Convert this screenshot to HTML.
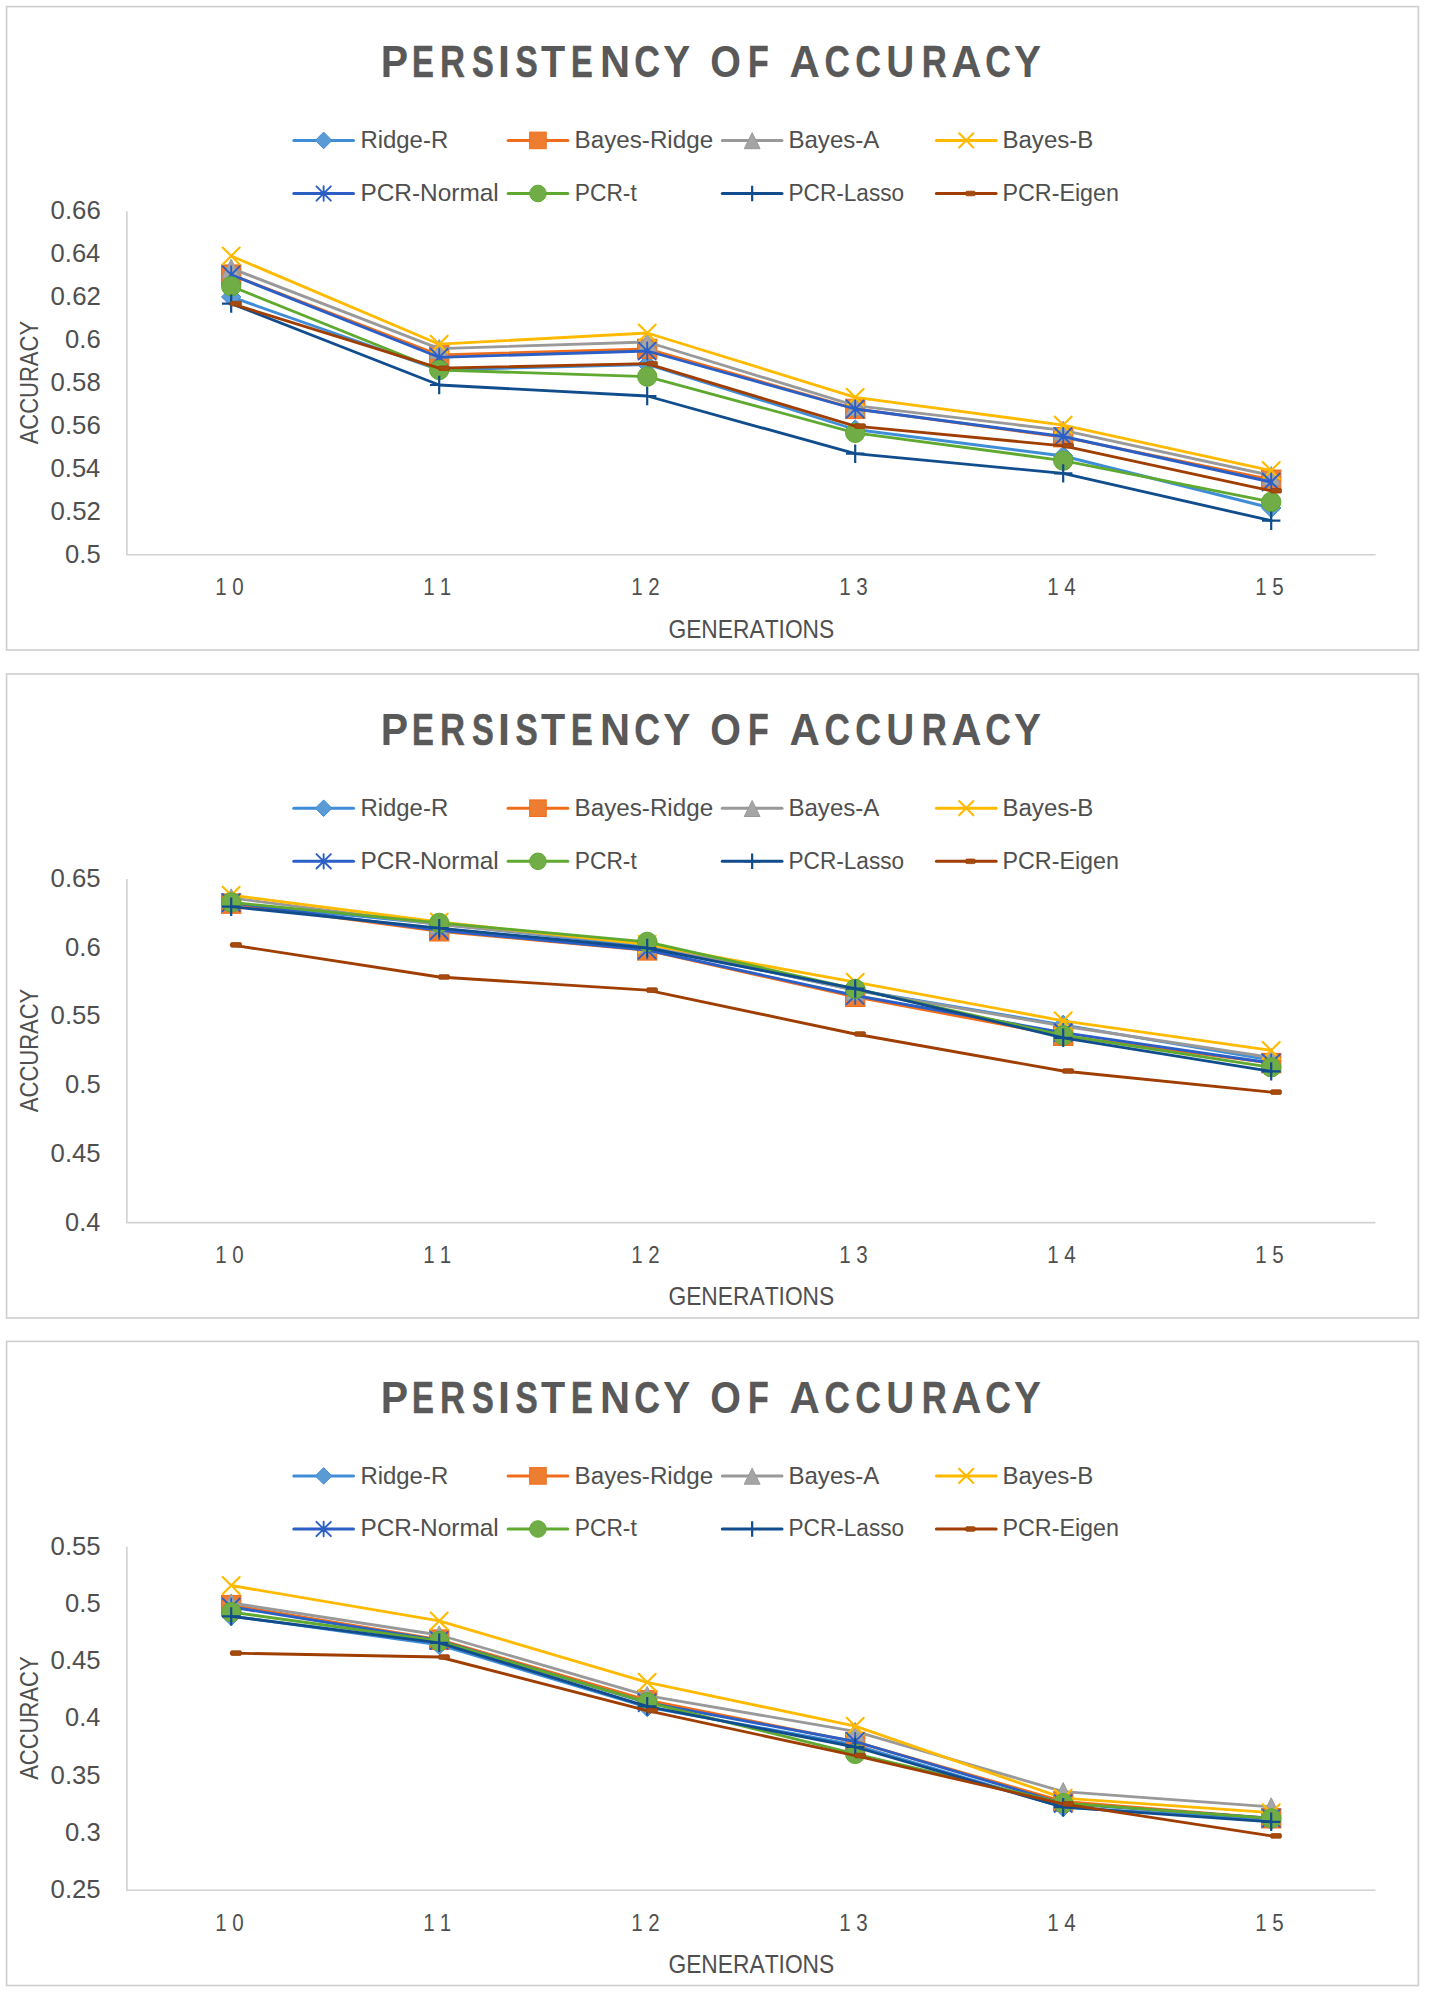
<!DOCTYPE html>
<html><head><meta charset="utf-8"><title>Persistency of accuracy</title>
<style>
html,body{margin:0;padding:0;background:#fff;}
body{width:1429px;height:2000px;overflow:hidden;}
svg{display:block;font-family:'Liberation Sans', sans-serif;font-kerning:none;}
</style></head><body>
<svg width="1429" height="2000" viewBox="0 0 1429 2000">
<rect width="1429" height="2000" fill="#fff"/>
<rect x="6.6" y="6.6" width="1411.8" height="643.4" fill="#fff" stroke="#d0d0d0" stroke-width="1.7"/>
<text transform="translate(380.76 77.00) scale(0.9070 1)" font-size="45.2" font-weight="bold" fill="#595959">P</text>
<text transform="translate(411.91 77.00) scale(0.7256 1)" font-size="45.2" font-weight="bold" fill="#595959" stroke="#595959" stroke-width="0.60">E</text>
<text transform="translate(439.98 77.00) scale(0.7668 1)" font-size="45.2" font-weight="bold" fill="#595959" stroke="#595959" stroke-width="0.42">R</text>
<text transform="translate(471.96 77.00) scale(0.7238 1)" font-size="45.2" font-weight="bold" fill="#595959" stroke="#595959" stroke-width="0.61">S</text>
<text transform="translate(498.12 77.00) scale(0.9523 1)" font-size="45.2" font-weight="bold" fill="#595959">I</text>
<text transform="translate(515.54 77.00) scale(0.7385 1)" font-size="45.2" font-weight="bold" fill="#595959" stroke="#595959" stroke-width="0.55">S</text>
<text transform="translate(540.96 77.00) scale(0.8754 1)" font-size="45.2" font-weight="bold" fill="#595959">T</text>
<text transform="translate(571.12 77.00) scale(0.7216 1)" font-size="45.2" font-weight="bold" fill="#595959" stroke="#595959" stroke-width="0.62">E</text>
<text transform="translate(599.91 77.00) scale(0.9220 1)" font-size="45.2" font-weight="bold" fill="#595959">N</text>
<text transform="translate(634.24 77.00) scale(0.7884 1)" font-size="45.2" font-weight="bold" fill="#595959" stroke="#595959" stroke-width="0.32">C</text>
<text transform="translate(663.21 77.00) scale(0.8971 1)" font-size="45.2" font-weight="bold" fill="#595959">Y</text>
<text transform="translate(710.18 77.00) scale(0.8724 1)" font-size="45.2" font-weight="bold" fill="#595959">O</text>
<text transform="translate(747.93 77.00) scale(0.7501 1)" font-size="45.2" font-weight="bold" fill="#595959" stroke="#595959" stroke-width="0.49">F</text>
<text transform="translate(789.55 77.00) scale(0.9299 1)" font-size="45.2" font-weight="bold" fill="#595959">A</text>
<text transform="translate(824.56 77.00) scale(0.7783 1)" font-size="45.2" font-weight="bold" fill="#595959" stroke="#595959" stroke-width="0.37">C</text>
<text transform="translate(855.24 77.00) scale(0.7884 1)" font-size="45.2" font-weight="bold" fill="#595959" stroke="#595959" stroke-width="0.32">C</text>
<text transform="translate(886.27 77.00) scale(0.8576 1)" font-size="45.2" font-weight="bold" fill="#595959" stroke="#595959" stroke-width="0.01">U</text>
<text transform="translate(921.68 77.00) scale(0.7668 1)" font-size="45.2" font-weight="bold" fill="#595959" stroke="#595959" stroke-width="0.42">R</text>
<text transform="translate(951.26 77.00) scale(0.9266 1)" font-size="45.2" font-weight="bold" fill="#595959">A</text>
<text transform="translate(985.14 77.00) scale(0.7851 1)" font-size="45.2" font-weight="bold" fill="#595959" stroke="#595959" stroke-width="0.34">C</text>
<text transform="translate(1014.01 77.00) scale(0.8971 1)" font-size="45.2" font-weight="bold" fill="#595959">Y</text>
<path d="M293.8 140.4L353.5 140.4" stroke="#408dd7" stroke-width="3" stroke-linecap="round" fill="none"/>
<path d="M323.65 132.1L331.95 140.4L323.65 148.7L315.35 140.4Z" fill="#5b9bd5" stroke="#408dd7" stroke-width="1" stroke-linejoin="miter"/>
<text transform="translate(360.44 148.10) scale(0.9727 1)" font-size="24.6" font-weight="normal" fill="#4f4f4f">Ridge-R</text>
<path d="M508.1 140.4L567.8 140.4" stroke="#f06e1b" stroke-width="3" stroke-linecap="round" fill="none"/>
<rect x="529.65" y="132.1" width="16.6" height="16.6" fill="#ed7d31" stroke="#f06e1b" stroke-width="1" stroke-linejoin="miter"/>
<text transform="translate(574.61 148.10) scale(0.9838 1)" font-size="24.6" font-weight="normal" fill="#4f4f4f">Bayes-Ridge</text>
<path d="M722.3 140.4L782 140.4" stroke="#999999" stroke-width="3" stroke-linecap="round" fill="none"/>
<path d="M752.15 132.7L760.05 148.7L744.25 148.7Z" fill="#a5a5a5" stroke="#999999" stroke-width="1" stroke-linejoin="miter"/>
<text transform="translate(788.42 148.10) scale(0.9790 1)" font-size="24.6" font-weight="normal" fill="#4f4f4f">Bayes-A</text>
<path d="M936.4 140.4L996.1 140.4" stroke="#ffba00" stroke-width="3" stroke-linecap="round" fill="none"/>
<path d="M959.15 133.3L973.35 147.5M959.15 147.5L973.35 133.3" stroke="#ffba00" stroke-width="2.1" stroke-linecap="round" fill="none"/>
<text transform="translate(1002.43 148.10) scale(0.9782 1)" font-size="24.6" font-weight="normal" fill="#4f4f4f">Bayes-B</text>
<path d="M293.8 193.5L353.5 193.5" stroke="#2b5fc6" stroke-width="3" stroke-linecap="round" fill="none"/>
<path d="M316.45 186.3L330.85 200.7M316.45 200.7L330.85 186.3M323.65 186.3L323.65 200.7" stroke="#2b5fc6" stroke-width="1.9" stroke-linecap="round" fill="none"/>
<text transform="translate(360.40 200.90) scale(0.9923 1)" font-size="24.6" font-weight="normal" fill="#4f4f4f">PCR-Normal</text>
<path d="M508.1 193.5L567.8 193.5" stroke="#60a930" stroke-width="3" stroke-linecap="round" fill="none"/>
<circle cx="537.95" cy="193.5" r="8.3" fill="#70ad47" stroke="#60a930" stroke-width="1" stroke-linejoin="miter"/>
<text transform="translate(574.73 200.90) scale(0.9264 1)" font-size="24.6" font-weight="normal" fill="#4f4f4f">PCR-t</text>
<path d="M722.3 193.5L782 193.5" stroke="#114d8d" stroke-width="3" stroke-linecap="round" fill="none"/>
<path d="M744.35 193.5L759.95 193.5M752.15 185.7L752.15 201.3" stroke="#114d8d" stroke-width="2.2" stroke-linecap="butt" fill="none"/>
<text transform="translate(788.55 200.90) scale(0.9191 1)" font-size="24.6" font-weight="normal" fill="#4f4f4f">PCR-Lasso</text>
<path d="M936.4 193.5L996.1 193.5" stroke="#a03e02" stroke-width="3" stroke-linecap="round" fill="none"/>
<rect x="965.75" y="191.2" width="9.3" height="4.6" rx="1.2" fill="#a54b10" stroke="#a03e02" stroke-width="0.8"/>
<text transform="translate(1002.49 200.90) scale(0.9470 1)" font-size="24.6" font-weight="normal" fill="#4f4f4f">PCR-Eigen</text>
<path d="M126.9 211.3L126.9 554.8L1375.5 554.8" stroke="#d2d2d2" stroke-width="1.6" fill="none"/>
<text transform="translate(50.59 219.20) scale(1.0304 1)" font-size="25" font-weight="normal" fill="#4f4f4f">0.66</text>
<text transform="translate(50.60 262.14) scale(1.0224 1)" font-size="25" font-weight="normal" fill="#4f4f4f">0.64</text>
<text transform="translate(50.59 305.07) scale(1.0340 1)" font-size="25" font-weight="normal" fill="#4f4f4f">0.62</text>
<text transform="translate(65.10 348.01) scale(1.0251 1)" font-size="25" font-weight="normal" fill="#4f4f4f">0.6</text>
<text transform="translate(50.59 390.95) scale(1.0302 1)" font-size="25" font-weight="normal" fill="#4f4f4f">0.58</text>
<text transform="translate(50.59 433.89) scale(1.0304 1)" font-size="25" font-weight="normal" fill="#4f4f4f">0.56</text>
<text transform="translate(50.60 476.82) scale(1.0224 1)" font-size="25" font-weight="normal" fill="#4f4f4f">0.54</text>
<text transform="translate(50.59 519.76) scale(1.0340 1)" font-size="25" font-weight="normal" fill="#4f4f4f">0.52</text>
<text transform="translate(65.10 562.70) scale(1.0236 1)" font-size="25" font-weight="normal" fill="#4f4f4f">0.5</text>
<text transform="translate(37.80 444.34) rotate(-90) scale(0.8735 1)" font-size="25.2" font-weight="normal" fill="#4f4f4f">ACCURACY</text>
<text transform="translate(215.32 595.00) scale(0.8800 1)" font-size="23.3" font-weight="normal" fill="#4f4f4f">1</text>
<text transform="translate(232.15 595.00) scale(0.8800 1)" font-size="23.3" font-weight="normal" fill="#4f4f4f">0</text>
<text transform="translate(423.32 595.00) scale(0.8800 1)" font-size="23.3" font-weight="normal" fill="#4f4f4f">1</text>
<text transform="translate(439.87 595.00) scale(0.8800 1)" font-size="23.3" font-weight="normal" fill="#4f4f4f">1</text>
<text transform="translate(631.32 595.00) scale(0.8800 1)" font-size="23.3" font-weight="normal" fill="#4f4f4f">1</text>
<text transform="translate(648.15 595.00) scale(0.8800 1)" font-size="23.3" font-weight="normal" fill="#4f4f4f">2</text>
<text transform="translate(839.32 595.00) scale(0.8800 1)" font-size="23.3" font-weight="normal" fill="#4f4f4f">1</text>
<text transform="translate(856.21 595.00) scale(0.8800 1)" font-size="23.3" font-weight="normal" fill="#4f4f4f">3</text>
<text transform="translate(1047.32 595.00) scale(0.8800 1)" font-size="23.3" font-weight="normal" fill="#4f4f4f">1</text>
<text transform="translate(1064.21 595.00) scale(0.8800 1)" font-size="23.3" font-weight="normal" fill="#4f4f4f">4</text>
<text transform="translate(1255.32 595.00) scale(0.8800 1)" font-size="23.3" font-weight="normal" fill="#4f4f4f">1</text>
<text transform="translate(1272.17 595.00) scale(0.8800 1)" font-size="23.3" font-weight="normal" fill="#4f4f4f">5</text>
<text transform="translate(668.45 637.50) scale(0.9044 1)" font-size="25.2" font-weight="normal" fill="#4f4f4f">GENERATIONS</text>
<polyline points="231.2,296.9 439.2,370 647.2,364.5 855.2,429.5 1063.2,456 1271.2,508" stroke="#408dd7" stroke-width="2.85" stroke-linejoin="round" stroke-linecap="round" fill="none"/>
<path d="M231.2 287.2L240.9 296.9L231.2 306.6L221.5 296.9Z" fill="#5b9bd5" stroke="#408dd7" stroke-width="1" stroke-linejoin="miter"/>
<path d="M439.2 360.3L448.9 370L439.2 379.7L429.5 370Z" fill="#5b9bd5" stroke="#408dd7" stroke-width="1" stroke-linejoin="miter"/>
<path d="M647.2 354.8L656.9 364.5L647.2 374.2L637.5 364.5Z" fill="#5b9bd5" stroke="#408dd7" stroke-width="1" stroke-linejoin="miter"/>
<path d="M855.2 419.8L864.9 429.5L855.2 439.2L845.5 429.5Z" fill="#5b9bd5" stroke="#408dd7" stroke-width="1" stroke-linejoin="miter"/>
<path d="M1063.2 446.3L1072.9 456L1063.2 465.7L1053.5 456Z" fill="#5b9bd5" stroke="#408dd7" stroke-width="1" stroke-linejoin="miter"/>
<path d="M1271.2 498.3L1280.9 508L1271.2 517.7L1261.5 508Z" fill="#5b9bd5" stroke="#408dd7" stroke-width="1" stroke-linejoin="miter"/>
<polyline points="231.2,274.6 439.2,355 647.2,348.9 855.2,408.9 1063.2,437.2 1271.2,479.7" stroke="#f06e1b" stroke-width="2.85" stroke-linejoin="round" stroke-linecap="round" fill="none"/>
<rect x="221.5" y="264.9" width="19.4" height="19.4" fill="#ed7d31" stroke="#f06e1b" stroke-width="1" stroke-linejoin="miter"/>
<rect x="429.5" y="345.3" width="19.4" height="19.4" fill="#ed7d31" stroke="#f06e1b" stroke-width="1" stroke-linejoin="miter"/>
<rect x="637.5" y="339.2" width="19.4" height="19.4" fill="#ed7d31" stroke="#f06e1b" stroke-width="1" stroke-linejoin="miter"/>
<rect x="845.5" y="399.2" width="19.4" height="19.4" fill="#ed7d31" stroke="#f06e1b" stroke-width="1" stroke-linejoin="miter"/>
<rect x="1053.5" y="427.5" width="19.4" height="19.4" fill="#ed7d31" stroke="#f06e1b" stroke-width="1" stroke-linejoin="miter"/>
<rect x="1261.5" y="470" width="19.4" height="19.4" fill="#ed7d31" stroke="#f06e1b" stroke-width="1" stroke-linejoin="miter"/>
<polyline points="231.2,268.3 439.2,348.6 647.2,342 855.2,405.6 1063.2,430.3 1271.2,475.5" stroke="#999999" stroke-width="2.85" stroke-linejoin="round" stroke-linecap="round" fill="none"/>
<path d="M231.2 259.2L240.5 278L221.9 278Z" fill="#a5a5a5" stroke="#999999" stroke-width="1" stroke-linejoin="miter"/>
<path d="M439.2 339.5L448.5 358.3L429.9 358.3Z" fill="#a5a5a5" stroke="#999999" stroke-width="1" stroke-linejoin="miter"/>
<path d="M647.2 332.9L656.5 351.7L637.9 351.7Z" fill="#a5a5a5" stroke="#999999" stroke-width="1" stroke-linejoin="miter"/>
<path d="M855.2 396.5L864.5 415.3L845.9 415.3Z" fill="#a5a5a5" stroke="#999999" stroke-width="1" stroke-linejoin="miter"/>
<path d="M1063.2 421.2L1072.5 440L1053.9 440Z" fill="#a5a5a5" stroke="#999999" stroke-width="1" stroke-linejoin="miter"/>
<path d="M1271.2 466.4L1280.5 485.2L1261.9 485.2Z" fill="#a5a5a5" stroke="#999999" stroke-width="1" stroke-linejoin="miter"/>
<polyline points="231.2,256 439.2,344.2 647.2,333 855.2,397.3 1063.2,425.1 1271.2,470.6" stroke="#ffba00" stroke-width="2.85" stroke-linejoin="round" stroke-linecap="round" fill="none"/>
<path d="M222.7 247.5L239.7 264.5M222.7 264.5L239.7 247.5" stroke="#ffba00" stroke-width="2.1" stroke-linecap="round" fill="none"/>
<path d="M430.7 335.7L447.7 352.7M430.7 352.7L447.7 335.7" stroke="#ffba00" stroke-width="2.1" stroke-linecap="round" fill="none"/>
<path d="M638.7 324.5L655.7 341.5M638.7 341.5L655.7 324.5" stroke="#ffba00" stroke-width="2.1" stroke-linecap="round" fill="none"/>
<path d="M846.7 388.8L863.7 405.8M846.7 405.8L863.7 388.8" stroke="#ffba00" stroke-width="2.1" stroke-linecap="round" fill="none"/>
<path d="M1054.7 416.6L1071.7 433.6M1054.7 433.6L1071.7 416.6" stroke="#ffba00" stroke-width="2.1" stroke-linecap="round" fill="none"/>
<path d="M1262.7 462.1L1279.7 479.1M1262.7 479.1L1279.7 462.1" stroke="#ffba00" stroke-width="2.1" stroke-linecap="round" fill="none"/>
<polyline points="231.2,274.8 439.2,357.3 647.2,351 855.2,409 1063.2,436.5 1271.2,482" stroke="#2b5fc6" stroke-width="2.85" stroke-linejoin="round" stroke-linecap="round" fill="none"/>
<path d="M222.6 266.2L239.8 283.4M222.6 283.4L239.8 266.2M231.2 266.2L231.2 283.4" stroke="#2b5fc6" stroke-width="1.9" stroke-linecap="round" fill="none"/>
<path d="M430.6 348.7L447.8 365.9M430.6 365.9L447.8 348.7M439.2 348.7L439.2 365.9" stroke="#2b5fc6" stroke-width="1.9" stroke-linecap="round" fill="none"/>
<path d="M638.6 342.4L655.8 359.6M638.6 359.6L655.8 342.4M647.2 342.4L647.2 359.6" stroke="#2b5fc6" stroke-width="1.9" stroke-linecap="round" fill="none"/>
<path d="M846.6 400.4L863.8 417.6M846.6 417.6L863.8 400.4M855.2 400.4L855.2 417.6" stroke="#2b5fc6" stroke-width="1.9" stroke-linecap="round" fill="none"/>
<path d="M1054.6 427.9L1071.8 445.1M1054.6 445.1L1071.8 427.9M1063.2 427.9L1063.2 445.1" stroke="#2b5fc6" stroke-width="1.9" stroke-linecap="round" fill="none"/>
<path d="M1262.6 473.4L1279.8 490.6M1262.6 490.6L1279.8 473.4M1271.2 473.4L1271.2 490.6" stroke="#2b5fc6" stroke-width="1.9" stroke-linecap="round" fill="none"/>
<polyline points="231.2,286.3 439.2,370 647.2,376.6 855.2,432.8 1063.2,460.6 1271.2,501.9" stroke="#60a930" stroke-width="2.85" stroke-linejoin="round" stroke-linecap="round" fill="none"/>
<circle cx="231.2" cy="286.3" r="9.7" fill="#70ad47" stroke="#60a930" stroke-width="1" stroke-linejoin="miter"/>
<circle cx="439.2" cy="370" r="9.7" fill="#70ad47" stroke="#60a930" stroke-width="1" stroke-linejoin="miter"/>
<circle cx="647.2" cy="376.6" r="9.7" fill="#70ad47" stroke="#60a930" stroke-width="1" stroke-linejoin="miter"/>
<circle cx="855.2" cy="432.8" r="9.7" fill="#70ad47" stroke="#60a930" stroke-width="1" stroke-linejoin="miter"/>
<circle cx="1063.2" cy="460.6" r="9.7" fill="#70ad47" stroke="#60a930" stroke-width="1" stroke-linejoin="miter"/>
<circle cx="1271.2" cy="501.9" r="9.7" fill="#70ad47" stroke="#60a930" stroke-width="1" stroke-linejoin="miter"/>
<polyline points="231.2,303.6 439.2,385 647.2,396 855.2,453.7 1063.2,473.4 1271.2,520.7" stroke="#114d8d" stroke-width="2.85" stroke-linejoin="round" stroke-linecap="round" fill="none"/>
<path d="M222 303.6L240.4 303.6M231.2 294.4L231.2 312.8" stroke="#114d8d" stroke-width="2.2" stroke-linecap="butt" fill="none"/>
<path d="M430 385L448.4 385M439.2 375.8L439.2 394.2" stroke="#114d8d" stroke-width="2.2" stroke-linecap="butt" fill="none"/>
<path d="M638 396L656.4 396M647.2 386.8L647.2 405.2" stroke="#114d8d" stroke-width="2.2" stroke-linecap="butt" fill="none"/>
<path d="M846 453.7L864.4 453.7M855.2 444.5L855.2 462.9" stroke="#114d8d" stroke-width="2.2" stroke-linecap="butt" fill="none"/>
<path d="M1054 473.4L1072.4 473.4M1063.2 464.2L1063.2 482.6" stroke="#114d8d" stroke-width="2.2" stroke-linecap="butt" fill="none"/>
<path d="M1262 520.7L1280.4 520.7M1271.2 511.5L1271.2 529.9" stroke="#114d8d" stroke-width="2.2" stroke-linecap="butt" fill="none"/>
<polyline points="231.2,303.6 439.2,368.2 647.2,363.7 855.2,426.1 1063.2,445.8 1271.2,490.8" stroke="#a03e02" stroke-width="2.85" stroke-linejoin="round" stroke-linecap="round" fill="none"/>
<rect x="230.7" y="301.3" width="10.7" height="4.6" rx="1.2" fill="#a54b10" stroke="#a03e02" stroke-width="0.8"/>
<rect x="438.7" y="365.9" width="10.7" height="4.6" rx="1.2" fill="#a54b10" stroke="#a03e02" stroke-width="0.8"/>
<rect x="646.7" y="361.4" width="10.7" height="4.6" rx="1.2" fill="#a54b10" stroke="#a03e02" stroke-width="0.8"/>
<rect x="854.7" y="423.8" width="10.7" height="4.6" rx="1.2" fill="#a54b10" stroke="#a03e02" stroke-width="0.8"/>
<rect x="1062.7" y="443.5" width="10.7" height="4.6" rx="1.2" fill="#a54b10" stroke="#a03e02" stroke-width="0.8"/>
<rect x="1270.7" y="488.5" width="10.7" height="4.6" rx="1.2" fill="#a54b10" stroke="#a03e02" stroke-width="0.8"/>
<rect x="6.6" y="674" width="1411.8" height="644" fill="#fff" stroke="#d0d0d0" stroke-width="1.7"/>
<text transform="translate(380.76 744.80) scale(0.9070 1)" font-size="45.2" font-weight="bold" fill="#595959">P</text>
<text transform="translate(411.91 744.80) scale(0.7256 1)" font-size="45.2" font-weight="bold" fill="#595959" stroke="#595959" stroke-width="0.60">E</text>
<text transform="translate(439.98 744.80) scale(0.7668 1)" font-size="45.2" font-weight="bold" fill="#595959" stroke="#595959" stroke-width="0.42">R</text>
<text transform="translate(471.96 744.80) scale(0.7238 1)" font-size="45.2" font-weight="bold" fill="#595959" stroke="#595959" stroke-width="0.61">S</text>
<text transform="translate(498.12 744.80) scale(0.9523 1)" font-size="45.2" font-weight="bold" fill="#595959">I</text>
<text transform="translate(515.54 744.80) scale(0.7385 1)" font-size="45.2" font-weight="bold" fill="#595959" stroke="#595959" stroke-width="0.55">S</text>
<text transform="translate(540.96 744.80) scale(0.8754 1)" font-size="45.2" font-weight="bold" fill="#595959">T</text>
<text transform="translate(571.12 744.80) scale(0.7216 1)" font-size="45.2" font-weight="bold" fill="#595959" stroke="#595959" stroke-width="0.62">E</text>
<text transform="translate(599.91 744.80) scale(0.9220 1)" font-size="45.2" font-weight="bold" fill="#595959">N</text>
<text transform="translate(634.24 744.80) scale(0.7884 1)" font-size="45.2" font-weight="bold" fill="#595959" stroke="#595959" stroke-width="0.32">C</text>
<text transform="translate(663.21 744.80) scale(0.8971 1)" font-size="45.2" font-weight="bold" fill="#595959">Y</text>
<text transform="translate(710.18 744.80) scale(0.8724 1)" font-size="45.2" font-weight="bold" fill="#595959">O</text>
<text transform="translate(747.93 744.80) scale(0.7501 1)" font-size="45.2" font-weight="bold" fill="#595959" stroke="#595959" stroke-width="0.49">F</text>
<text transform="translate(789.55 744.80) scale(0.9299 1)" font-size="45.2" font-weight="bold" fill="#595959">A</text>
<text transform="translate(824.56 744.80) scale(0.7783 1)" font-size="45.2" font-weight="bold" fill="#595959" stroke="#595959" stroke-width="0.37">C</text>
<text transform="translate(855.24 744.80) scale(0.7884 1)" font-size="45.2" font-weight="bold" fill="#595959" stroke="#595959" stroke-width="0.32">C</text>
<text transform="translate(886.27 744.80) scale(0.8576 1)" font-size="45.2" font-weight="bold" fill="#595959" stroke="#595959" stroke-width="0.01">U</text>
<text transform="translate(921.68 744.80) scale(0.7668 1)" font-size="45.2" font-weight="bold" fill="#595959" stroke="#595959" stroke-width="0.42">R</text>
<text transform="translate(951.26 744.80) scale(0.9266 1)" font-size="45.2" font-weight="bold" fill="#595959">A</text>
<text transform="translate(985.14 744.80) scale(0.7851 1)" font-size="45.2" font-weight="bold" fill="#595959" stroke="#595959" stroke-width="0.34">C</text>
<text transform="translate(1014.01 744.80) scale(0.8971 1)" font-size="45.2" font-weight="bold" fill="#595959">Y</text>
<path d="M293.8 808.2L353.5 808.2" stroke="#408dd7" stroke-width="3" stroke-linecap="round" fill="none"/>
<path d="M323.65 799.9L331.95 808.2L323.65 816.5L315.35 808.2Z" fill="#5b9bd5" stroke="#408dd7" stroke-width="1" stroke-linejoin="miter"/>
<text transform="translate(360.44 815.90) scale(0.9727 1)" font-size="24.6" font-weight="normal" fill="#4f4f4f">Ridge-R</text>
<path d="M508.1 808.2L567.8 808.2" stroke="#f06e1b" stroke-width="3" stroke-linecap="round" fill="none"/>
<rect x="529.65" y="799.9" width="16.6" height="16.6" fill="#ed7d31" stroke="#f06e1b" stroke-width="1" stroke-linejoin="miter"/>
<text transform="translate(574.61 815.90) scale(0.9838 1)" font-size="24.6" font-weight="normal" fill="#4f4f4f">Bayes-Ridge</text>
<path d="M722.3 808.2L782 808.2" stroke="#999999" stroke-width="3" stroke-linecap="round" fill="none"/>
<path d="M752.15 800.5L760.05 816.5L744.25 816.5Z" fill="#a5a5a5" stroke="#999999" stroke-width="1" stroke-linejoin="miter"/>
<text transform="translate(788.42 815.90) scale(0.9790 1)" font-size="24.6" font-weight="normal" fill="#4f4f4f">Bayes-A</text>
<path d="M936.4 808.2L996.1 808.2" stroke="#ffba00" stroke-width="3" stroke-linecap="round" fill="none"/>
<path d="M959.15 801.1L973.35 815.3M959.15 815.3L973.35 801.1" stroke="#ffba00" stroke-width="2.1" stroke-linecap="round" fill="none"/>
<text transform="translate(1002.43 815.90) scale(0.9782 1)" font-size="24.6" font-weight="normal" fill="#4f4f4f">Bayes-B</text>
<path d="M293.8 861.3L353.5 861.3" stroke="#2b5fc6" stroke-width="3" stroke-linecap="round" fill="none"/>
<path d="M316.45 854.1L330.85 868.5M316.45 868.5L330.85 854.1M323.65 854.1L323.65 868.5" stroke="#2b5fc6" stroke-width="1.9" stroke-linecap="round" fill="none"/>
<text transform="translate(360.40 868.70) scale(0.9923 1)" font-size="24.6" font-weight="normal" fill="#4f4f4f">PCR-Normal</text>
<path d="M508.1 861.3L567.8 861.3" stroke="#60a930" stroke-width="3" stroke-linecap="round" fill="none"/>
<circle cx="537.95" cy="861.3" r="8.3" fill="#70ad47" stroke="#60a930" stroke-width="1" stroke-linejoin="miter"/>
<text transform="translate(574.73 868.70) scale(0.9264 1)" font-size="24.6" font-weight="normal" fill="#4f4f4f">PCR-t</text>
<path d="M722.3 861.3L782 861.3" stroke="#114d8d" stroke-width="3" stroke-linecap="round" fill="none"/>
<path d="M744.35 861.3L759.95 861.3M752.15 853.5L752.15 869.1" stroke="#114d8d" stroke-width="2.2" stroke-linecap="butt" fill="none"/>
<text transform="translate(788.55 868.70) scale(0.9191 1)" font-size="24.6" font-weight="normal" fill="#4f4f4f">PCR-Lasso</text>
<path d="M936.4 861.3L996.1 861.3" stroke="#a03e02" stroke-width="3" stroke-linecap="round" fill="none"/>
<rect x="965.75" y="859" width="9.3" height="4.6" rx="1.2" fill="#a54b10" stroke="#a03e02" stroke-width="0.8"/>
<text transform="translate(1002.49 868.70) scale(0.9470 1)" font-size="24.6" font-weight="normal" fill="#4f4f4f">PCR-Eigen</text>
<path d="M126.9 879.1L126.9 1222.6L1375.5 1222.6" stroke="#d2d2d2" stroke-width="1.6" fill="none"/>
<text transform="translate(50.59 887.00) scale(1.0294 1)" font-size="25" font-weight="normal" fill="#4f4f4f">0.65</text>
<text transform="translate(65.10 955.70) scale(1.0251 1)" font-size="25" font-weight="normal" fill="#4f4f4f">0.6</text>
<text transform="translate(50.59 1024.40) scale(1.0294 1)" font-size="25" font-weight="normal" fill="#4f4f4f">0.55</text>
<text transform="translate(65.10 1093.10) scale(1.0236 1)" font-size="25" font-weight="normal" fill="#4f4f4f">0.5</text>
<text transform="translate(50.59 1161.80) scale(1.0294 1)" font-size="25" font-weight="normal" fill="#4f4f4f">0.45</text>
<text transform="translate(65.11 1230.50) scale(1.0138 1)" font-size="25" font-weight="normal" fill="#4f4f4f">0.4</text>
<text transform="translate(37.80 1112.14) rotate(-90) scale(0.8735 1)" font-size="25.2" font-weight="normal" fill="#4f4f4f">ACCURACY</text>
<text transform="translate(215.32 1262.80) scale(0.8800 1)" font-size="23.3" font-weight="normal" fill="#4f4f4f">1</text>
<text transform="translate(232.15 1262.80) scale(0.8800 1)" font-size="23.3" font-weight="normal" fill="#4f4f4f">0</text>
<text transform="translate(423.32 1262.80) scale(0.8800 1)" font-size="23.3" font-weight="normal" fill="#4f4f4f">1</text>
<text transform="translate(439.87 1262.80) scale(0.8800 1)" font-size="23.3" font-weight="normal" fill="#4f4f4f">1</text>
<text transform="translate(631.32 1262.80) scale(0.8800 1)" font-size="23.3" font-weight="normal" fill="#4f4f4f">1</text>
<text transform="translate(648.15 1262.80) scale(0.8800 1)" font-size="23.3" font-weight="normal" fill="#4f4f4f">2</text>
<text transform="translate(839.32 1262.80) scale(0.8800 1)" font-size="23.3" font-weight="normal" fill="#4f4f4f">1</text>
<text transform="translate(856.21 1262.80) scale(0.8800 1)" font-size="23.3" font-weight="normal" fill="#4f4f4f">3</text>
<text transform="translate(1047.32 1262.80) scale(0.8800 1)" font-size="23.3" font-weight="normal" fill="#4f4f4f">1</text>
<text transform="translate(1064.21 1262.80) scale(0.8800 1)" font-size="23.3" font-weight="normal" fill="#4f4f4f">4</text>
<text transform="translate(1255.32 1262.80) scale(0.8800 1)" font-size="23.3" font-weight="normal" fill="#4f4f4f">1</text>
<text transform="translate(1272.17 1262.80) scale(0.8800 1)" font-size="23.3" font-weight="normal" fill="#4f4f4f">5</text>
<text transform="translate(668.45 1305.30) scale(0.9044 1)" font-size="25.2" font-weight="normal" fill="#4f4f4f">GENERATIONS</text>
<polyline points="231.2,903.5 439.2,924 647.2,946 855.2,990 1063.2,1024.8 1271.2,1060.2" stroke="#408dd7" stroke-width="2.85" stroke-linejoin="round" stroke-linecap="round" fill="none"/>
<path d="M231.2 893.8L240.9 903.5L231.2 913.2L221.5 903.5Z" fill="#5b9bd5" stroke="#408dd7" stroke-width="1" stroke-linejoin="miter"/>
<path d="M439.2 914.3L448.9 924L439.2 933.7L429.5 924Z" fill="#5b9bd5" stroke="#408dd7" stroke-width="1" stroke-linejoin="miter"/>
<path d="M647.2 936.3L656.9 946L647.2 955.7L637.5 946Z" fill="#5b9bd5" stroke="#408dd7" stroke-width="1" stroke-linejoin="miter"/>
<path d="M855.2 980.3L864.9 990L855.2 999.7L845.5 990Z" fill="#5b9bd5" stroke="#408dd7" stroke-width="1" stroke-linejoin="miter"/>
<path d="M1063.2 1015.1L1072.9 1024.8L1063.2 1034.5L1053.5 1024.8Z" fill="#5b9bd5" stroke="#408dd7" stroke-width="1" stroke-linejoin="miter"/>
<path d="M1271.2 1050.5L1280.9 1060.2L1271.2 1069.9L1261.5 1060.2Z" fill="#5b9bd5" stroke="#408dd7" stroke-width="1" stroke-linejoin="miter"/>
<polyline points="231.2,903.6 439.2,931.3 647.2,950.4 855.2,996.8 1063.2,1035.8 1271.2,1063.1" stroke="#f06e1b" stroke-width="2.85" stroke-linejoin="round" stroke-linecap="round" fill="none"/>
<rect x="221.5" y="893.9" width="19.4" height="19.4" fill="#ed7d31" stroke="#f06e1b" stroke-width="1" stroke-linejoin="miter"/>
<rect x="429.5" y="921.6" width="19.4" height="19.4" fill="#ed7d31" stroke="#f06e1b" stroke-width="1" stroke-linejoin="miter"/>
<rect x="637.5" y="940.7" width="19.4" height="19.4" fill="#ed7d31" stroke="#f06e1b" stroke-width="1" stroke-linejoin="miter"/>
<rect x="845.5" y="987.1" width="19.4" height="19.4" fill="#ed7d31" stroke="#f06e1b" stroke-width="1" stroke-linejoin="miter"/>
<rect x="1053.5" y="1026.1" width="19.4" height="19.4" fill="#ed7d31" stroke="#f06e1b" stroke-width="1" stroke-linejoin="miter"/>
<rect x="1261.5" y="1053.4" width="19.4" height="19.4" fill="#ed7d31" stroke="#f06e1b" stroke-width="1" stroke-linejoin="miter"/>
<polyline points="231.2,897.9 439.2,924.5 647.2,944.3 855.2,990.3 1063.2,1026 1271.2,1057.5" stroke="#999999" stroke-width="2.85" stroke-linejoin="round" stroke-linecap="round" fill="none"/>
<path d="M231.2 888.8L240.5 907.6L221.9 907.6Z" fill="#a5a5a5" stroke="#999999" stroke-width="1" stroke-linejoin="miter"/>
<path d="M439.2 915.4L448.5 934.2L429.9 934.2Z" fill="#a5a5a5" stroke="#999999" stroke-width="1" stroke-linejoin="miter"/>
<path d="M647.2 935.2L656.5 954L637.9 954Z" fill="#a5a5a5" stroke="#999999" stroke-width="1" stroke-linejoin="miter"/>
<path d="M855.2 981.2L864.5 1000L845.9 1000Z" fill="#a5a5a5" stroke="#999999" stroke-width="1" stroke-linejoin="miter"/>
<path d="M1063.2 1016.9L1072.5 1035.7L1053.9 1035.7Z" fill="#a5a5a5" stroke="#999999" stroke-width="1" stroke-linejoin="miter"/>
<path d="M1271.2 1048.4L1280.5 1067.2L1261.9 1067.2Z" fill="#a5a5a5" stroke="#999999" stroke-width="1" stroke-linejoin="miter"/>
<polyline points="231.2,895.2 439.2,922 647.2,944.3 855.2,982.2 1063.2,1020.8 1271.2,1050.4" stroke="#ffba00" stroke-width="2.85" stroke-linejoin="round" stroke-linecap="round" fill="none"/>
<path d="M222.7 886.7L239.7 903.7M222.7 903.7L239.7 886.7" stroke="#ffba00" stroke-width="2.1" stroke-linecap="round" fill="none"/>
<path d="M430.7 913.5L447.7 930.5M430.7 930.5L447.7 913.5" stroke="#ffba00" stroke-width="2.1" stroke-linecap="round" fill="none"/>
<path d="M638.7 935.8L655.7 952.8M638.7 952.8L655.7 935.8" stroke="#ffba00" stroke-width="2.1" stroke-linecap="round" fill="none"/>
<path d="M846.7 973.7L863.7 990.7M846.7 990.7L863.7 973.7" stroke="#ffba00" stroke-width="2.1" stroke-linecap="round" fill="none"/>
<path d="M1054.7 1012.3L1071.7 1029.3M1054.7 1029.3L1071.7 1012.3" stroke="#ffba00" stroke-width="2.1" stroke-linecap="round" fill="none"/>
<path d="M1262.7 1041.9L1279.7 1058.9M1262.7 1058.9L1279.7 1041.9" stroke="#ffba00" stroke-width="2.1" stroke-linecap="round" fill="none"/>
<polyline points="231.2,902.6 439.2,930.4 647.2,950 855.2,995.5 1063.2,1032.6 1271.2,1063" stroke="#2b5fc6" stroke-width="2.85" stroke-linejoin="round" stroke-linecap="round" fill="none"/>
<path d="M222.6 894L239.8 911.2M222.6 911.2L239.8 894M231.2 894L231.2 911.2" stroke="#2b5fc6" stroke-width="1.9" stroke-linecap="round" fill="none"/>
<path d="M430.6 921.8L447.8 939M430.6 939L447.8 921.8M439.2 921.8L439.2 939" stroke="#2b5fc6" stroke-width="1.9" stroke-linecap="round" fill="none"/>
<path d="M638.6 941.4L655.8 958.6M638.6 958.6L655.8 941.4M647.2 941.4L647.2 958.6" stroke="#2b5fc6" stroke-width="1.9" stroke-linecap="round" fill="none"/>
<path d="M846.6 986.9L863.8 1004.1M846.6 1004.1L863.8 986.9M855.2 986.9L855.2 1004.1" stroke="#2b5fc6" stroke-width="1.9" stroke-linecap="round" fill="none"/>
<path d="M1054.6 1024L1071.8 1041.2M1054.6 1041.2L1071.8 1024M1063.2 1024L1063.2 1041.2" stroke="#2b5fc6" stroke-width="1.9" stroke-linecap="round" fill="none"/>
<path d="M1262.6 1054.4L1279.8 1071.6M1262.6 1071.6L1279.8 1054.4M1271.2 1054.4L1271.2 1071.6" stroke="#2b5fc6" stroke-width="1.9" stroke-linecap="round" fill="none"/>
<polyline points="231.2,902.4 439.2,922.9 647.2,941.9 855.2,988.9 1063.2,1035.4 1271.2,1067.3" stroke="#60a930" stroke-width="2.85" stroke-linejoin="round" stroke-linecap="round" fill="none"/>
<circle cx="231.2" cy="902.4" r="9.7" fill="#70ad47" stroke="#60a930" stroke-width="1" stroke-linejoin="miter"/>
<circle cx="439.2" cy="922.9" r="9.7" fill="#70ad47" stroke="#60a930" stroke-width="1" stroke-linejoin="miter"/>
<circle cx="647.2" cy="941.9" r="9.7" fill="#70ad47" stroke="#60a930" stroke-width="1" stroke-linejoin="miter"/>
<circle cx="855.2" cy="988.9" r="9.7" fill="#70ad47" stroke="#60a930" stroke-width="1" stroke-linejoin="miter"/>
<circle cx="1063.2" cy="1035.4" r="9.7" fill="#70ad47" stroke="#60a930" stroke-width="1" stroke-linejoin="miter"/>
<circle cx="1271.2" cy="1067.3" r="9.7" fill="#70ad47" stroke="#60a930" stroke-width="1" stroke-linejoin="miter"/>
<polyline points="231.2,906.7 439.2,928.1 647.2,948 855.2,988.6 1063.2,1037.8 1271.2,1071.4" stroke="#114d8d" stroke-width="2.85" stroke-linejoin="round" stroke-linecap="round" fill="none"/>
<path d="M222 906.7L240.4 906.7M231.2 897.5L231.2 915.9" stroke="#114d8d" stroke-width="2.2" stroke-linecap="butt" fill="none"/>
<path d="M430 928.1L448.4 928.1M439.2 918.9L439.2 937.3" stroke="#114d8d" stroke-width="2.2" stroke-linecap="butt" fill="none"/>
<path d="M638 948L656.4 948M647.2 938.8L647.2 957.2" stroke="#114d8d" stroke-width="2.2" stroke-linecap="butt" fill="none"/>
<path d="M846 988.6L864.4 988.6M855.2 979.4L855.2 997.8" stroke="#114d8d" stroke-width="2.2" stroke-linecap="butt" fill="none"/>
<path d="M1054 1037.8L1072.4 1037.8M1063.2 1028.6L1063.2 1047" stroke="#114d8d" stroke-width="2.2" stroke-linecap="butt" fill="none"/>
<path d="M1262 1071.4L1280.4 1071.4M1271.2 1062.2L1271.2 1080.6" stroke="#114d8d" stroke-width="2.2" stroke-linecap="butt" fill="none"/>
<polyline points="231.2,944.9 439.2,977 647.2,990.1 855.2,1034 1063.2,1071 1271.2,1092.1" stroke="#a03e02" stroke-width="2.85" stroke-linejoin="round" stroke-linecap="round" fill="none"/>
<rect x="230.7" y="942.6" width="10.7" height="4.6" rx="1.2" fill="#a54b10" stroke="#a03e02" stroke-width="0.8"/>
<rect x="438.7" y="974.7" width="10.7" height="4.6" rx="1.2" fill="#a54b10" stroke="#a03e02" stroke-width="0.8"/>
<rect x="646.7" y="987.8" width="10.7" height="4.6" rx="1.2" fill="#a54b10" stroke="#a03e02" stroke-width="0.8"/>
<rect x="854.7" y="1031.7" width="10.7" height="4.6" rx="1.2" fill="#a54b10" stroke="#a03e02" stroke-width="0.8"/>
<rect x="1062.7" y="1068.7" width="10.7" height="4.6" rx="1.2" fill="#a54b10" stroke="#a03e02" stroke-width="0.8"/>
<rect x="1270.7" y="1089.8" width="10.7" height="4.6" rx="1.2" fill="#a54b10" stroke="#a03e02" stroke-width="0.8"/>
<rect x="6.6" y="1341.4" width="1411.8" height="644.1" fill="#fff" stroke="#d0d0d0" stroke-width="1.7"/>
<text transform="translate(380.76 1412.50) scale(0.9070 1)" font-size="45.2" font-weight="bold" fill="#595959">P</text>
<text transform="translate(411.91 1412.50) scale(0.7256 1)" font-size="45.2" font-weight="bold" fill="#595959" stroke="#595959" stroke-width="0.60">E</text>
<text transform="translate(439.98 1412.50) scale(0.7668 1)" font-size="45.2" font-weight="bold" fill="#595959" stroke="#595959" stroke-width="0.42">R</text>
<text transform="translate(471.96 1412.50) scale(0.7238 1)" font-size="45.2" font-weight="bold" fill="#595959" stroke="#595959" stroke-width="0.61">S</text>
<text transform="translate(498.12 1412.50) scale(0.9523 1)" font-size="45.2" font-weight="bold" fill="#595959">I</text>
<text transform="translate(515.54 1412.50) scale(0.7385 1)" font-size="45.2" font-weight="bold" fill="#595959" stroke="#595959" stroke-width="0.55">S</text>
<text transform="translate(540.96 1412.50) scale(0.8754 1)" font-size="45.2" font-weight="bold" fill="#595959">T</text>
<text transform="translate(571.12 1412.50) scale(0.7216 1)" font-size="45.2" font-weight="bold" fill="#595959" stroke="#595959" stroke-width="0.62">E</text>
<text transform="translate(599.91 1412.50) scale(0.9220 1)" font-size="45.2" font-weight="bold" fill="#595959">N</text>
<text transform="translate(634.24 1412.50) scale(0.7884 1)" font-size="45.2" font-weight="bold" fill="#595959" stroke="#595959" stroke-width="0.32">C</text>
<text transform="translate(663.21 1412.50) scale(0.8971 1)" font-size="45.2" font-weight="bold" fill="#595959">Y</text>
<text transform="translate(710.18 1412.50) scale(0.8724 1)" font-size="45.2" font-weight="bold" fill="#595959">O</text>
<text transform="translate(747.93 1412.50) scale(0.7501 1)" font-size="45.2" font-weight="bold" fill="#595959" stroke="#595959" stroke-width="0.49">F</text>
<text transform="translate(789.55 1412.50) scale(0.9299 1)" font-size="45.2" font-weight="bold" fill="#595959">A</text>
<text transform="translate(824.56 1412.50) scale(0.7783 1)" font-size="45.2" font-weight="bold" fill="#595959" stroke="#595959" stroke-width="0.37">C</text>
<text transform="translate(855.24 1412.50) scale(0.7884 1)" font-size="45.2" font-weight="bold" fill="#595959" stroke="#595959" stroke-width="0.32">C</text>
<text transform="translate(886.27 1412.50) scale(0.8576 1)" font-size="45.2" font-weight="bold" fill="#595959" stroke="#595959" stroke-width="0.01">U</text>
<text transform="translate(921.68 1412.50) scale(0.7668 1)" font-size="45.2" font-weight="bold" fill="#595959" stroke="#595959" stroke-width="0.42">R</text>
<text transform="translate(951.26 1412.50) scale(0.9266 1)" font-size="45.2" font-weight="bold" fill="#595959">A</text>
<text transform="translate(985.14 1412.50) scale(0.7851 1)" font-size="45.2" font-weight="bold" fill="#595959" stroke="#595959" stroke-width="0.34">C</text>
<text transform="translate(1014.01 1412.50) scale(0.8971 1)" font-size="45.2" font-weight="bold" fill="#595959">Y</text>
<path d="M293.8 1475.9L353.5 1475.9" stroke="#408dd7" stroke-width="3" stroke-linecap="round" fill="none"/>
<path d="M323.65 1467.6L331.95 1475.9L323.65 1484.2L315.35 1475.9Z" fill="#5b9bd5" stroke="#408dd7" stroke-width="1" stroke-linejoin="miter"/>
<text transform="translate(360.44 1483.60) scale(0.9727 1)" font-size="24.6" font-weight="normal" fill="#4f4f4f">Ridge-R</text>
<path d="M508.1 1475.9L567.8 1475.9" stroke="#f06e1b" stroke-width="3" stroke-linecap="round" fill="none"/>
<rect x="529.65" y="1467.6" width="16.6" height="16.6" fill="#ed7d31" stroke="#f06e1b" stroke-width="1" stroke-linejoin="miter"/>
<text transform="translate(574.61 1483.60) scale(0.9838 1)" font-size="24.6" font-weight="normal" fill="#4f4f4f">Bayes-Ridge</text>
<path d="M722.3 1475.9L782 1475.9" stroke="#999999" stroke-width="3" stroke-linecap="round" fill="none"/>
<path d="M752.15 1468.2L760.05 1484.2L744.25 1484.2Z" fill="#a5a5a5" stroke="#999999" stroke-width="1" stroke-linejoin="miter"/>
<text transform="translate(788.42 1483.60) scale(0.9790 1)" font-size="24.6" font-weight="normal" fill="#4f4f4f">Bayes-A</text>
<path d="M936.4 1475.9L996.1 1475.9" stroke="#ffba00" stroke-width="3" stroke-linecap="round" fill="none"/>
<path d="M959.15 1468.8L973.35 1483M959.15 1483L973.35 1468.8" stroke="#ffba00" stroke-width="2.1" stroke-linecap="round" fill="none"/>
<text transform="translate(1002.43 1483.60) scale(0.9782 1)" font-size="24.6" font-weight="normal" fill="#4f4f4f">Bayes-B</text>
<path d="M293.8 1529L353.5 1529" stroke="#2b5fc6" stroke-width="3" stroke-linecap="round" fill="none"/>
<path d="M316.45 1521.8L330.85 1536.2M316.45 1536.2L330.85 1521.8M323.65 1521.8L323.65 1536.2" stroke="#2b5fc6" stroke-width="1.9" stroke-linecap="round" fill="none"/>
<text transform="translate(360.40 1536.40) scale(0.9923 1)" font-size="24.6" font-weight="normal" fill="#4f4f4f">PCR-Normal</text>
<path d="M508.1 1529L567.8 1529" stroke="#60a930" stroke-width="3" stroke-linecap="round" fill="none"/>
<circle cx="537.95" cy="1529" r="8.3" fill="#70ad47" stroke="#60a930" stroke-width="1" stroke-linejoin="miter"/>
<text transform="translate(574.73 1536.40) scale(0.9264 1)" font-size="24.6" font-weight="normal" fill="#4f4f4f">PCR-t</text>
<path d="M722.3 1529L782 1529" stroke="#114d8d" stroke-width="3" stroke-linecap="round" fill="none"/>
<path d="M744.35 1529L759.95 1529M752.15 1521.2L752.15 1536.8" stroke="#114d8d" stroke-width="2.2" stroke-linecap="butt" fill="none"/>
<text transform="translate(788.55 1536.40) scale(0.9191 1)" font-size="24.6" font-weight="normal" fill="#4f4f4f">PCR-Lasso</text>
<path d="M936.4 1529L996.1 1529" stroke="#a03e02" stroke-width="3" stroke-linecap="round" fill="none"/>
<rect x="965.75" y="1526.7" width="9.3" height="4.6" rx="1.2" fill="#a54b10" stroke="#a03e02" stroke-width="0.8"/>
<text transform="translate(1002.49 1536.40) scale(0.9470 1)" font-size="24.6" font-weight="normal" fill="#4f4f4f">PCR-Eigen</text>
<path d="M126.9 1546.8L126.9 1890.3L1375.5 1890.3" stroke="#d2d2d2" stroke-width="1.6" fill="none"/>
<text transform="translate(50.59 1554.70) scale(1.0294 1)" font-size="25" font-weight="normal" fill="#4f4f4f">0.55</text>
<text transform="translate(65.10 1611.95) scale(1.0236 1)" font-size="25" font-weight="normal" fill="#4f4f4f">0.5</text>
<text transform="translate(50.59 1669.20) scale(1.0294 1)" font-size="25" font-weight="normal" fill="#4f4f4f">0.45</text>
<text transform="translate(65.11 1726.45) scale(1.0138 1)" font-size="25" font-weight="normal" fill="#4f4f4f">0.4</text>
<text transform="translate(50.59 1783.70) scale(1.0294 1)" font-size="25" font-weight="normal" fill="#4f4f4f">0.35</text>
<text transform="translate(65.10 1840.95) scale(1.0251 1)" font-size="25" font-weight="normal" fill="#4f4f4f">0.3</text>
<text transform="translate(50.59 1898.20) scale(1.0294 1)" font-size="25" font-weight="normal" fill="#4f4f4f">0.25</text>
<text transform="translate(37.80 1779.84) rotate(-90) scale(0.8735 1)" font-size="25.2" font-weight="normal" fill="#4f4f4f">ACCURACY</text>
<text transform="translate(215.32 1930.50) scale(0.8800 1)" font-size="23.3" font-weight="normal" fill="#4f4f4f">1</text>
<text transform="translate(232.15 1930.50) scale(0.8800 1)" font-size="23.3" font-weight="normal" fill="#4f4f4f">0</text>
<text transform="translate(423.32 1930.50) scale(0.8800 1)" font-size="23.3" font-weight="normal" fill="#4f4f4f">1</text>
<text transform="translate(439.87 1930.50) scale(0.8800 1)" font-size="23.3" font-weight="normal" fill="#4f4f4f">1</text>
<text transform="translate(631.32 1930.50) scale(0.8800 1)" font-size="23.3" font-weight="normal" fill="#4f4f4f">1</text>
<text transform="translate(648.15 1930.50) scale(0.8800 1)" font-size="23.3" font-weight="normal" fill="#4f4f4f">2</text>
<text transform="translate(839.32 1930.50) scale(0.8800 1)" font-size="23.3" font-weight="normal" fill="#4f4f4f">1</text>
<text transform="translate(856.21 1930.50) scale(0.8800 1)" font-size="23.3" font-weight="normal" fill="#4f4f4f">3</text>
<text transform="translate(1047.32 1930.50) scale(0.8800 1)" font-size="23.3" font-weight="normal" fill="#4f4f4f">1</text>
<text transform="translate(1064.21 1930.50) scale(0.8800 1)" font-size="23.3" font-weight="normal" fill="#4f4f4f">4</text>
<text transform="translate(1255.32 1930.50) scale(0.8800 1)" font-size="23.3" font-weight="normal" fill="#4f4f4f">1</text>
<text transform="translate(1272.17 1930.50) scale(0.8800 1)" font-size="23.3" font-weight="normal" fill="#4f4f4f">5</text>
<text transform="translate(668.45 1973.00) scale(0.9044 1)" font-size="25.2" font-weight="normal" fill="#4f4f4f">GENERATIONS</text>
<polyline points="231.2,1616 439.2,1644.8 647.2,1707.1 855.2,1745 1063.2,1807.1 1271.2,1820" stroke="#408dd7" stroke-width="2.85" stroke-linejoin="round" stroke-linecap="round" fill="none"/>
<path d="M231.2 1606.3L240.9 1616L231.2 1625.7L221.5 1616Z" fill="#5b9bd5" stroke="#408dd7" stroke-width="1" stroke-linejoin="miter"/>
<path d="M439.2 1635.1L448.9 1644.8L439.2 1654.5L429.5 1644.8Z" fill="#5b9bd5" stroke="#408dd7" stroke-width="1" stroke-linejoin="miter"/>
<path d="M647.2 1697.4L656.9 1707.1L647.2 1716.8L637.5 1707.1Z" fill="#5b9bd5" stroke="#408dd7" stroke-width="1" stroke-linejoin="miter"/>
<path d="M855.2 1735.3L864.9 1745L855.2 1754.7L845.5 1745Z" fill="#5b9bd5" stroke="#408dd7" stroke-width="1" stroke-linejoin="miter"/>
<path d="M1063.2 1797.4L1072.9 1807.1L1063.2 1816.8L1053.5 1807.1Z" fill="#5b9bd5" stroke="#408dd7" stroke-width="1" stroke-linejoin="miter"/>
<path d="M1271.2 1810.3L1280.9 1820L1271.2 1829.7L1261.5 1820Z" fill="#5b9bd5" stroke="#408dd7" stroke-width="1" stroke-linejoin="miter"/>
<polyline points="231.2,1605.1 439.2,1639.6 647.2,1700.1 855.2,1741.9 1063.2,1801.4 1271.2,1818.3" stroke="#f06e1b" stroke-width="2.85" stroke-linejoin="round" stroke-linecap="round" fill="none"/>
<rect x="221.5" y="1595.4" width="19.4" height="19.4" fill="#ed7d31" stroke="#f06e1b" stroke-width="1" stroke-linejoin="miter"/>
<rect x="429.5" y="1629.9" width="19.4" height="19.4" fill="#ed7d31" stroke="#f06e1b" stroke-width="1" stroke-linejoin="miter"/>
<rect x="637.5" y="1690.4" width="19.4" height="19.4" fill="#ed7d31" stroke="#f06e1b" stroke-width="1" stroke-linejoin="miter"/>
<rect x="845.5" y="1732.2" width="19.4" height="19.4" fill="#ed7d31" stroke="#f06e1b" stroke-width="1" stroke-linejoin="miter"/>
<rect x="1053.5" y="1791.7" width="19.4" height="19.4" fill="#ed7d31" stroke="#f06e1b" stroke-width="1" stroke-linejoin="miter"/>
<rect x="1261.5" y="1808.6" width="19.4" height="19.4" fill="#ed7d31" stroke="#f06e1b" stroke-width="1" stroke-linejoin="miter"/>
<polyline points="231.2,1603 439.2,1635 647.2,1695.6 855.2,1731.4 1063.2,1791.7 1271.2,1806.9" stroke="#999999" stroke-width="2.85" stroke-linejoin="round" stroke-linecap="round" fill="none"/>
<path d="M231.2 1593.9L240.5 1612.7L221.9 1612.7Z" fill="#a5a5a5" stroke="#999999" stroke-width="1" stroke-linejoin="miter"/>
<path d="M439.2 1625.9L448.5 1644.7L429.9 1644.7Z" fill="#a5a5a5" stroke="#999999" stroke-width="1" stroke-linejoin="miter"/>
<path d="M647.2 1686.5L656.5 1705.3L637.9 1705.3Z" fill="#a5a5a5" stroke="#999999" stroke-width="1" stroke-linejoin="miter"/>
<path d="M855.2 1722.3L864.5 1741.1L845.9 1741.1Z" fill="#a5a5a5" stroke="#999999" stroke-width="1" stroke-linejoin="miter"/>
<path d="M1063.2 1782.6L1072.5 1801.4L1053.9 1801.4Z" fill="#a5a5a5" stroke="#999999" stroke-width="1" stroke-linejoin="miter"/>
<path d="M1271.2 1797.8L1280.5 1816.6L1261.9 1816.6Z" fill="#a5a5a5" stroke="#999999" stroke-width="1" stroke-linejoin="miter"/>
<polyline points="231.2,1585.5 439.2,1620.9 647.2,1682.3 855.2,1726.2 1063.2,1798.1 1271.2,1812.7" stroke="#ffba00" stroke-width="2.85" stroke-linejoin="round" stroke-linecap="round" fill="none"/>
<path d="M222.7 1577L239.7 1594M222.7 1594L239.7 1577" stroke="#ffba00" stroke-width="2.1" stroke-linecap="round" fill="none"/>
<path d="M430.7 1612.4L447.7 1629.4M430.7 1629.4L447.7 1612.4" stroke="#ffba00" stroke-width="2.1" stroke-linecap="round" fill="none"/>
<path d="M638.7 1673.8L655.7 1690.8M638.7 1690.8L655.7 1673.8" stroke="#ffba00" stroke-width="2.1" stroke-linecap="round" fill="none"/>
<path d="M846.7 1717.7L863.7 1734.7M846.7 1734.7L863.7 1717.7" stroke="#ffba00" stroke-width="2.1" stroke-linecap="round" fill="none"/>
<path d="M1054.7 1789.6L1071.7 1806.6M1054.7 1806.6L1071.7 1789.6" stroke="#ffba00" stroke-width="2.1" stroke-linecap="round" fill="none"/>
<path d="M1262.7 1804.2L1279.7 1821.2M1262.7 1821.2L1279.7 1804.2" stroke="#ffba00" stroke-width="2.1" stroke-linecap="round" fill="none"/>
<polyline points="231.2,1607 439.2,1640.5 647.2,1702.7 855.2,1741.5 1063.2,1803.6 1271.2,1818.2" stroke="#2b5fc6" stroke-width="2.85" stroke-linejoin="round" stroke-linecap="round" fill="none"/>
<path d="M222.6 1598.4L239.8 1615.6M222.6 1615.6L239.8 1598.4M231.2 1598.4L231.2 1615.6" stroke="#2b5fc6" stroke-width="1.9" stroke-linecap="round" fill="none"/>
<path d="M430.6 1631.9L447.8 1649.1M430.6 1649.1L447.8 1631.9M439.2 1631.9L439.2 1649.1" stroke="#2b5fc6" stroke-width="1.9" stroke-linecap="round" fill="none"/>
<path d="M638.6 1694.1L655.8 1711.3M638.6 1711.3L655.8 1694.1M647.2 1694.1L647.2 1711.3" stroke="#2b5fc6" stroke-width="1.9" stroke-linecap="round" fill="none"/>
<path d="M846.6 1732.9L863.8 1750.1M846.6 1750.1L863.8 1732.9M855.2 1732.9L855.2 1750.1" stroke="#2b5fc6" stroke-width="1.9" stroke-linecap="round" fill="none"/>
<path d="M1054.6 1795L1071.8 1812.2M1054.6 1812.2L1071.8 1795M1063.2 1795L1063.2 1812.2" stroke="#2b5fc6" stroke-width="1.9" stroke-linecap="round" fill="none"/>
<path d="M1262.6 1809.6L1279.8 1826.8M1262.6 1826.8L1279.8 1809.6M1271.2 1809.6L1271.2 1826.8" stroke="#2b5fc6" stroke-width="1.9" stroke-linecap="round" fill="none"/>
<polyline points="231.2,1612.1 439.2,1641 647.2,1702.3 855.2,1753.9 1063.2,1803.2 1271.2,1818.4" stroke="#60a930" stroke-width="2.85" stroke-linejoin="round" stroke-linecap="round" fill="none"/>
<circle cx="231.2" cy="1612.1" r="9.7" fill="#70ad47" stroke="#60a930" stroke-width="1" stroke-linejoin="miter"/>
<circle cx="439.2" cy="1641" r="9.7" fill="#70ad47" stroke="#60a930" stroke-width="1" stroke-linejoin="miter"/>
<circle cx="647.2" cy="1702.3" r="9.7" fill="#70ad47" stroke="#60a930" stroke-width="1" stroke-linejoin="miter"/>
<circle cx="855.2" cy="1753.9" r="9.7" fill="#70ad47" stroke="#60a930" stroke-width="1" stroke-linejoin="miter"/>
<circle cx="1063.2" cy="1803.2" r="9.7" fill="#70ad47" stroke="#60a930" stroke-width="1" stroke-linejoin="miter"/>
<circle cx="1271.2" cy="1818.4" r="9.7" fill="#70ad47" stroke="#60a930" stroke-width="1" stroke-linejoin="miter"/>
<polyline points="231.2,1616.4 439.2,1642.8 647.2,1706.3 855.2,1747 1063.2,1807.2 1271.2,1821.8" stroke="#114d8d" stroke-width="2.85" stroke-linejoin="round" stroke-linecap="round" fill="none"/>
<path d="M222 1616.4L240.4 1616.4M231.2 1607.2L231.2 1625.6" stroke="#114d8d" stroke-width="2.2" stroke-linecap="butt" fill="none"/>
<path d="M430 1642.8L448.4 1642.8M439.2 1633.6L439.2 1652" stroke="#114d8d" stroke-width="2.2" stroke-linecap="butt" fill="none"/>
<path d="M638 1706.3L656.4 1706.3M647.2 1697.1L647.2 1715.5" stroke="#114d8d" stroke-width="2.2" stroke-linecap="butt" fill="none"/>
<path d="M846 1747L864.4 1747M855.2 1737.8L855.2 1756.2" stroke="#114d8d" stroke-width="2.2" stroke-linecap="butt" fill="none"/>
<path d="M1054 1807.2L1072.4 1807.2M1063.2 1798L1063.2 1816.4" stroke="#114d8d" stroke-width="2.2" stroke-linecap="butt" fill="none"/>
<path d="M1262 1821.8L1280.4 1821.8M1271.2 1812.6L1271.2 1831" stroke="#114d8d" stroke-width="2.2" stroke-linecap="butt" fill="none"/>
<polyline points="231.2,1653.1 439.2,1657 647.2,1710.6 855.2,1755.6 1063.2,1803.9 1271.2,1835.9" stroke="#a03e02" stroke-width="2.85" stroke-linejoin="round" stroke-linecap="round" fill="none"/>
<rect x="230.7" y="1650.8" width="10.7" height="4.6" rx="1.2" fill="#a54b10" stroke="#a03e02" stroke-width="0.8"/>
<rect x="438.7" y="1654.7" width="10.7" height="4.6" rx="1.2" fill="#a54b10" stroke="#a03e02" stroke-width="0.8"/>
<rect x="646.7" y="1708.3" width="10.7" height="4.6" rx="1.2" fill="#a54b10" stroke="#a03e02" stroke-width="0.8"/>
<rect x="854.7" y="1753.3" width="10.7" height="4.6" rx="1.2" fill="#a54b10" stroke="#a03e02" stroke-width="0.8"/>
<rect x="1062.7" y="1801.6" width="10.7" height="4.6" rx="1.2" fill="#a54b10" stroke="#a03e02" stroke-width="0.8"/>
<rect x="1270.7" y="1833.6" width="10.7" height="4.6" rx="1.2" fill="#a54b10" stroke="#a03e02" stroke-width="0.8"/>
</svg>
</body></html>
